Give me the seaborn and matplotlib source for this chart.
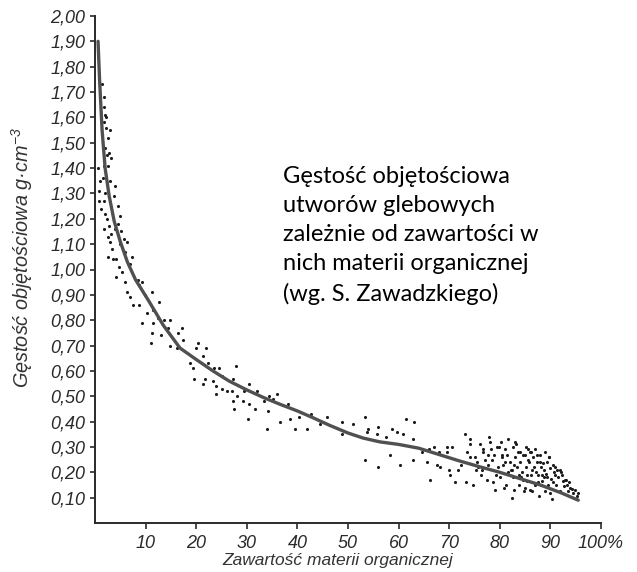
import matplotlib
matplotlib.use("Agg")
import matplotlib.pyplot as plt
import seaborn as sns
import pandas as pd

# Fitted relation: bulk density vs. organic matter content
curve_x = [0.6, 0.9, 1.4, 2.0, 2.8, 3.8, 5.0, 6.4, 8.0, 10.5, 13.5, 16.8, 20.0,
           23.3, 26.5, 30.0, 33.3, 36.6, 40.0, 43.1, 46.4, 50.0, 53.0, 56.3,
           60.0, 64.0, 68.0, 72.0, 76.0, 80.0, 84.0, 88.0, 92.0, 95.5]
curve_y = [1.90, 1.75, 1.55, 1.40, 1.29, 1.19, 1.11, 1.03, 0.96, 0.88, 0.78,
           0.69, 0.645, 0.60, 0.56, 0.525, 0.495, 0.468, 0.442, 0.415, 0.385,
           0.355, 0.335, 0.32, 0.31, 0.295, 0.27, 0.245, 0.222, 0.20, 0.175,
           0.15, 0.12, 0.09]

# Measured samples, mineral soils (low organic content)
steep_x = [1.3, 1.7, 1.8, 2.0, 2.2, 1.7, 2.1, 1.4, 2.5, 2.0, 2.7,
           0.5, 1.8, 2.6, 1.0, 3.0, 0.8, 2.0, 3.8, 0.7, 1.7, 4.5, 1.2, 2.0,
           4.9, 2.4, 4.5, 1.7, 2.7, 5.2, 3.2, 2.5, 5.7, 6.4, 2.9, 3.4, 5.0,
           2.6, 3.5, 4.2, 7.4, 4.8, 6.9, 5.3, 4.2, 8.5, 5.9, 9.2, 8.7, 6.3,
           11.2, 7.0, 7.5, 8.7, 12.6, 11.5, 12.4, 13.6, 14.8, 9.2, 11.4, 14.4,
           17.2, 11.2, 13.0, 16.4, 11.0, 14.8, 17.4, 20.4, 16.2, 19.9, 21.9,
           2.9, 3.1, 1.5, 2.3, 3.9, 6.0, 4.0, 9.8, 10.2]
steep_y = [1.73, 1.68, 1.64, 1.61, 1.60, 1.58, 1.56, 1.53, 1.52, 1.48, 1.46,
           1.40, 1.41, 1.41, 1.35, 1.35, 1.31, 1.30, 1.29, 1.27, 1.27, 1.25,
           1.24, 1.22, 1.21, 1.20, 1.18, 1.16, 1.17, 1.15, 1.14, 1.13, 1.12,
           1.11, 1.11, 1.08, 1.10, 1.05, 1.04, 1.04, 1.05, 1.01, 1.02, 0.99,
           0.97, 0.96, 0.95, 0.95, 0.94, 0.91, 0.91, 0.89, 0.86, 0.86, 0.87,
           0.84, 0.81, 0.80, 0.80, 0.79, 0.79, 0.77, 0.77, 0.75, 0.74, 0.75,
           0.71, 0.70, 0.72, 0.71, 0.69, 0.69, 0.69,
           1.55, 1.44, 1.36, 1.45, 1.33, 1.07, 1.16, 0.90, 0.83]

# Measured samples, medium organic content
mid_x = [21.3, 18.8, 22.4, 19.4, 23.5, 24.6, 27.8, 25.0, 19.6, 21.7, 21.4,
         27.2, 23.4, 24.0, 30.5, 25.0, 26.0, 23.9, 27.0, 32.0, 28.0, 29.4,
         27.3, 29.3, 30.5, 27.5, 31.6, 34.4, 35.2, 35.9, 33.4, 30.3, 34.1,
         38.2, 36.6, 38.5, 40.4, 39.5, 34.0, 42.6, 41.8, 45.8, 44.5, 48.8,
         51.0, 53.4, 54.0, 56.0, 48.8, 53.7, 55.8, 53.4, 56.0, 57.5]
mid_y = [0.66, 0.63, 0.63, 0.61, 0.61, 0.61, 0.62, 0.58, 0.57, 0.57, 0.55,
         0.57, 0.56, 0.54, 0.55, 0.53, 0.52, 0.51, 0.52, 0.52, 0.50, 0.52,
         0.48, 0.48, 0.47, 0.45, 0.45, 0.50, 0.49, 0.51, 0.48, 0.41, 0.44,
         0.47, 0.40, 0.41, 0.42, 0.37, 0.37, 0.43, 0.37, 0.42, 0.39, 0.40,
         0.39, 0.42, 0.37, 0.38, 0.35, 0.36, 0.35, 0.25, 0.22, 0.34]

# Measured samples, organic soils and peats
tail_x = [58.6, 59.6, 61.4, 63.0, 60.9, 62.9, 58.3, 60.3, 62.9, 65.6, 64.6,
          66.1, 66.9, 68.0, 69.6, 69.5, 70.5, 67.5, 68.2, 66.3, 70.0, 70.2,
          71.1, 73.1, 74.1, 74.1, 73.5, 74.1, 72.4, 71.7, 73.4, 74.7, 75.1,
          75.4, 76.7, 76.7, 77.9, 78.0, 78.2, 78.8, 77.7, 76.4, 77.4, 78.7,
          79.0, 75.3, 75.7,
          79.7, 80.0, 80.4, 80.7, 81.0, 81.2, 81.7, 82.0, 82.4, 82.6, 82.7,
          83.0, 83.4, 83.7, 83.9, 84.0, 84.3, 84.7, 85.0, 85.2, 85.3, 85.6,
          85.8, 86.1, 86.3, 86.6, 86.8, 87.0, 87.3, 87.6, 87.8, 88.1, 88.3,
          88.6, 88.9, 89.1, 89.4, 89.6, 89.9, 90.2, 90.4, 90.7, 91.2, 91.6,
          91.9, 92.4, 92.6, 93.2, 93.5, 93.9, 94.4, 94.9, 95.2, 95.5,
          76.0, 77.0, 79.4, 80.2, 81.4, 82.2, 83.2, 84.5, 85.5, 86.0, 87.1,
          88.0, 88.8, 89.7, 90.5, 91.0, 92.0, 93.0, 80.9, 82.9, 84.9, 86.9,
          88.4, 90.0, 91.4, 79.2, 81.6, 83.6, 85.9, 87.5,
          78.4, 79.8, 81.1, 82.5, 83.8, 84.6, 85.1, 86.4, 87.4, 88.2, 89.0,
          89.8, 90.9, 91.8, 92.8, 93.7, 94.2, 80.5, 82.8, 84.2, 86.2, 87.9,
          89.3, 90.6, 92.2, 76.2, 77.6, 83.1, 85.4, 88.7]
tail_y = [0.37, 0.36, 0.41, 0.40, 0.35, 0.33, 0.27, 0.23, 0.25, 0.24, 0.28,
          0.29, 0.30, 0.28, 0.30, 0.28, 0.30, 0.23, 0.22, 0.17, 0.21, 0.19,
          0.16, 0.35, 0.33, 0.31, 0.28, 0.26, 0.23, 0.21, 0.16, 0.15, 0.26,
          0.24, 0.29, 0.28, 0.34, 0.32, 0.29, 0.27, 0.23, 0.21, 0.17, 0.16,
          0.13, 0.21, 0.22,
          0.22, 0.18, 0.26, 0.23, 0.29, 0.15, 0.20, 0.24, 0.10, 0.30, 0.18,
          0.26, 0.22, 0.15, 0.28, 0.24, 0.20, 0.125, 0.27, 0.22, 0.165, 0.29,
          0.24, 0.19, 0.125, 0.26, 0.22, 0.15, 0.24, 0.19, 0.105, 0.22, 0.165,
          0.235, 0.125, 0.195, 0.24, 0.15, 0.215, 0.175, 0.095, 0.20, 0.15,
          0.18, 0.125, 0.165, 0.145, 0.15, 0.125, 0.14, 0.12, 0.13, 0.105,
          0.12,
          0.31, 0.25, 0.30, 0.32, 0.27, 0.21, 0.31, 0.17, 0.25, 0.28, 0.20,
          0.27, 0.18, 0.26, 0.23, 0.19, 0.20, 0.17, 0.14, 0.13, 0.14, 0.29,
          0.19, 0.12, 0.21, 0.19, 0.33, 0.28, 0.13, 0.16,
          0.25, 0.30, 0.24, 0.21, 0.19, 0.27, 0.30, 0.21, 0.27, 0.15, 0.28,
          0.26, 0.22, 0.21, 0.17, 0.16, 0.135, 0.27, 0.23, 0.18, 0.28, 0.24,
          0.18, 0.16, 0.19, 0.19, 0.27, 0.32, 0.19, 0.21]

y_ticks = [0.1, 0.2, 0.3, 0.4, 0.5, 0.6, 0.7, 0.8, 0.9, 1.0,
           1.1, 1.2, 1.3, 1.4, 1.5, 1.6, 1.7, 1.8, 1.9, 2.0]
y_tick_labels = ["0,10", "0,20", "0,30", "0,40", "0,50", "0,60", "0,70",
                 "0,80", "0,90", "1,00", "1,10", "1,20", "1,30", "1,40",
                 "1,50", "1,60", "1,70", "1,80", "1,90", "2,00"]
x_ticks = [10, 20, 30, 40, 50, 60, 70, 80, 90, 100]
x_tick_labels = ["10", "20", "30", "40", "50", "60", "70", "80", "90", "100%"]

y_label = "Gęstość objętościowa g·cm$^{-3}$"
x_label = "Zawartość materii organicznej"
note = ("Gęstość objętościowa\nutworów glebowych\n"
        "zależnie od zawartości w\nnich materii organicznej\n"
        "(wg. S. Zawadzkiego)")

points = pd.DataFrame({
    "x": steep_x + mid_x + tail_x,
    "y": steep_y + mid_y + tail_y,
})
fit = pd.DataFrame({"x": curve_x, "y": curve_y})

sns.set_theme(style="white")
plt.rcParams["font.family"] = ["Liberation Sans", "DejaVu Sans"]
plt.rcParams["mathtext.fontset"] = "custom"
plt.rcParams["mathtext.it"] = "Liberation Sans:italic"
plt.rcParams["mathtext.rm"] = "Liberation Sans:italic"

ink = "#2a2a2a"
fig = plt.figure(figsize=(6.37, 5.72), dpi=100)
ax = fig.add_axes([95 / 637, 1 - 523 / 572, 506 / 637, 507 / 572])

sns.scatterplot(data=points, x="x", y="y", ax=ax, s=5, color="#1c1c1c",
                linewidth=0, legend=False)
sns.lineplot(data=fit, x="x", y="y", ax=ax, sort=False, estimator=None,
             color="#505050", linewidth=2.4)

ax.set_xlim(0, 100)
ax.set_ylim(0, 2.0)
ax.set_xticks(x_ticks)
ax.set_xticklabels(x_tick_labels, fontstyle="italic", fontsize=13, color=ink)
ax.set_yticks(y_ticks)
ax.set_yticklabels(y_tick_labels, fontstyle="italic", fontsize=13, color=ink)
ax.tick_params(axis="x", direction="out", length=4, width=1.2, pad=5,
               colors=ink, bottom=True)
ax.tick_params(axis="y", direction="out", length=3.5, width=1.2, pad=3.5,
               colors=ink, left=True)
ax.set_xlabel("")
ax.set_ylabel("")
for side in ("top", "right"):
    ax.spines[side].set_visible(False)
for side in ("left", "bottom"):
    ax.spines[side].set_color(ink)
    ax.spines[side].set_linewidth(1.4)

fig.text(22 / 637, 1 - 258 / 572, y_label, rotation=90, ha="center",
         va="center", fontsize=14.3, fontstyle="italic", color="#333333")
fig.text(338 / 637, 1 - 561 / 572, x_label, ha="center", va="center",
         fontsize=12.5, fontstyle="italic", color="#333333")
fig.text(283 / 637, 1 - 166 / 572, note, ha="left", va="top",
         fontsize=17, family=["Lato", "DejaVu Sans"], color="black",
         linespacing=1.47)

fig.savefig("out.png", dpi=100)
